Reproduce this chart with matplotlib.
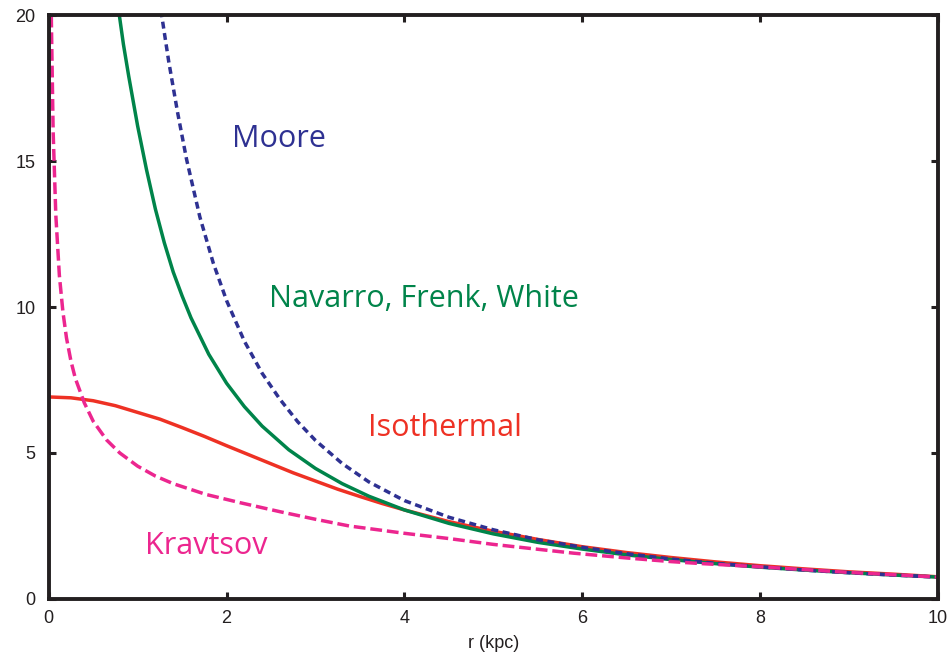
import matplotlib
matplotlib.use("Agg")
import matplotlib.pyplot as plt

# =========================================================
# DATA
# =========================================================

r_iso = [0, 0.25, 0.5, 0.75, 1, 1.25, 1.5, 1.75, 2, 2.25, 2.5, 2.75, 3,
         3.25, 3.5, 3.75, 4, 4.5, 5, 5.5, 6, 6.5, 7, 7.5, 8, 8.5, 9, 9.5, 10]
rho_iso = [6.92, 6.89, 6.79, 6.62, 6.39, 6.16, 5.87, 5.57, 5.25, 4.94,
           4.63, 4.32, 4.04, 3.76, 3.51, 3.27, 3.05, 2.65, 2.32, 2.04,
           1.79, 1.59, 1.42, 1.27, 1.14, 1.03, 0.93, 0.85, 0.76]

r_nfw = [0.74, 0.78, 0.84, 0.9, 1.0, 1.1, 1.2, 1.3, 1.4, 1.5, 1.6, 1.8,
         2.0, 2.2, 2.4, 2.7, 3.0, 3.3, 3.6, 4.0, 4.5, 5, 5.5, 6, 6.5, 7,
         7.5, 8, 8.5, 9, 9.5, 10]
rho_nfw = [21.4, 20.3, 19.0, 17.9, 16.2, 14.7, 13.35, 12.2, 11.2, 10.38,
           9.63, 8.38, 7.39, 6.59, 5.92, 5.11, 4.47, 3.95, 3.52, 3.05,
           2.59, 2.23, 1.94, 1.71, 1.51, 1.35, 1.21, 1.09, 0.99, 0.90,
           0.82, 0.75]

r_moore = [1.22, 1.27, 1.35, 1.45, 1.55, 1.7, 1.85, 2.0, 2.2, 2.4, 2.6,
           2.8, 3.0, 3.3, 3.6, 4.0, 4.5, 5.0, 5.5, 6.0, 6.5, 7.0, 7.5, 8.0,
           8.5, 9.0, 9.5, 10]
rho_moore = [21.2, 20.0, 18.4, 16.65, 15.06, 13.08, 11.51, 10.22, 8.83,
             7.73, 6.84, 6.07, 5.43, 4.64, 4.01, 3.37, 2.80, 2.37, 2.03,
             1.77, 1.55, 1.37, 1.22, 1.10, 0.99, 0.90, 0.82, 0.75]

r_krav = [0.015, 0.02, 0.03, 0.05, 0.08, 0.12, 0.16, 0.2, 0.25, 0.3, 0.4,
          0.5, 0.65, 0.8, 1.0, 1.2, 1.4, 1.77, 2.15, 2.6, 3.0, 3.38, 4.0,
          4.5, 5.0, 5.9, 6.5, 7.0, 7.3, 8, 9, 9.5, 10]
rho_krav = [26.6, 23.5, 19.8, 16.0, 13.15, 11.08, 9.83, 8.94, 8.15, 7.55,
            6.72, 6.09, 5.45, 5.0, 4.55, 4.21, 3.95, 3.58, 3.30, 2.99,
            2.73, 2.50, 2.25, 2.07, 1.87, 1.57, 1.405, 1.28, 1.22, 1.10,
            0.91, 0.83, 0.75]

x_ticks = [0, 2, 4, 6, 8, 10]
y_ticks = [0, 5, 10, 15, 20]

# =========================================================
# COLOURS / LABELS
# =========================================================

c_iso = "#EE3124"
c_nfw = "#00844A"
c_moore = "#2E3192"
c_krav = "#EC268F"
c_axis = "#231F20"

label_font = "Open Sans"

# =========================================================
# PLOT
# =========================================================

fig = plt.figure(figsize=(9.53, 6.61), dpi=100)
ax = fig.add_axes([0.0511, 0.0938, 0.9332, 0.8835])

ax.plot(r_iso, rho_iso, color=c_iso, lw=2.5, solid_capstyle="butt")
ax.plot(r_nfw, rho_nfw, color=c_nfw, lw=2.5, solid_capstyle="butt")
ax.plot(r_moore, rho_moore, color=c_moore, lw=2.5,
        linestyle=(0, (2.0, 1.3)))
ax.plot(r_krav, rho_krav, color=c_krav, lw=2.5,
        linestyle=(0, (3.4, 1.4)))

ax.set_xlim(0, 10)
ax.set_ylim(0, 20)
ax.set_xticks(x_ticks)
ax.set_yticks(y_ticks)

for s in ax.spines.values():
    s.set_linewidth(2.8)
    s.set_color(c_axis)

ax.tick_params(direction="in", length=5, width=2.2, color=c_axis,
               top=True, right=True, labelsize=13)
ax.tick_params(axis="x", pad=8)
ax.tick_params(axis="y", pad=9.5)
for lab in ax.get_xticklabels() + ax.get_yticklabels():
    lab.set_fontfamily("Liberation Sans")
    lab.set_color(c_axis)

ax.set_xlabel("r (kpc)", fontsize=13, family="Liberation Sans",
              color=c_axis, labelpad=6)

ax.text(2.59, 15.75, "Moore", color=c_moore, fontsize=22,
        family=label_font, ha="center", va="center")
ax.text(4.22, 10.27, "Navarro, Frenk, White", color=c_nfw, fontsize=22,
        family=label_font, ha="center", va="center")
ax.text(4.45, 5.86, "Isothermal", color=c_iso, fontsize=22,
        family=label_font, ha="center", va="center")
ax.text(1.77, 1.82, "Kravtsov", color=c_krav, fontsize=22,
        family=label_font, ha="center", va="center")

fig.savefig("out.png", dpi=100)
